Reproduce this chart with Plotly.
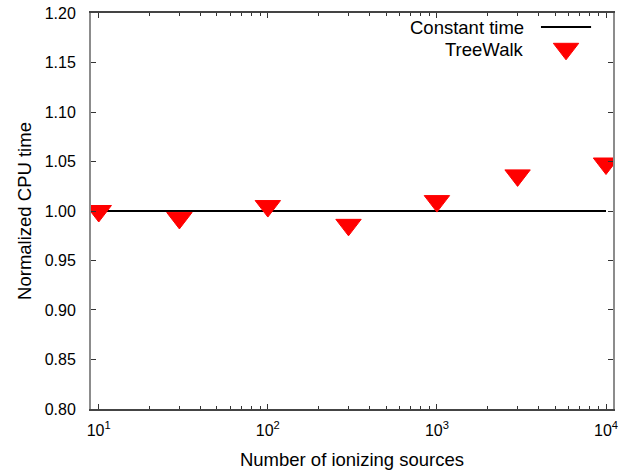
import math
import plotly.graph_objects as go

# ---- data ----
n_sources = [10, 30, 100, 300, 1000, 3000, 10000]
treewalk_time = [1.000, 0.993, 1.005, 0.986, 1.010, 1.036, 1.048]
const_x = [9, 10000]
const_y = [1.0, 1.0]
x_tickvals = [10, 100, 1000, 10000]
x_ticktext = ["10<sup>1</sup>", "10<sup>2</sup>", "10<sup>3</sup>", "10<sup>4</sup>"]
x_minor = [m * 10 ** e for e in range(0, 4) for m in range(2, 10) if 9 < m * 10 ** e < 11000]
y_tickvals = [0.80, 0.85, 0.90, 0.95, 1.00, 1.05, 1.10, 1.15, 1.20]
y_ticktext = ["0.80", "0.85", "0.90", "0.95", "1.00", "1.05", "1.10", "1.15", "1.20"]
series_names = ["Constant time", "TreeWalk"]

FONT = "Liberation Sans, Arial, sans-serif"
RED = "#ff0000"

fig = go.Figure()

fig.add_trace(go.Scatter(x=const_x, y=const_y, mode="lines",
                         line=dict(color="black", width=2), name=series_names[0],
                         showlegend=False))
fig.add_trace(go.Scatter(x=n_sources, y=treewalk_time, mode="markers",
                         marker=dict(symbol="triangle-down", size=22, color=RED,
                                     line=dict(color=RED, width=1)),
                         name=series_names[1], showlegend=False))

# legend sample marker (on an invisible overlay axis in plot-area fractions)
fig.add_trace(go.Scatter(x=[0.91], y=[0.9096], mode="markers", xaxis="x2", yaxis="y2",
                         marker=dict(symbol="triangle-down", size=22, color=RED,
                                     line=dict(color=RED, width=1)),
                         showlegend=False, hoverinfo="skip"))

fig.update_layout(
    width=637, height=474,
    margin=dict(l=91, r=24, t=13, b=65, autoexpand=False),
    paper_bgcolor="white", plot_bgcolor="white",
    font=dict(family=FONT, size=16, color="black"),
    showlegend=False,
    xaxis=dict(
        type="log", range=[math.log10(9), math.log10(11000)], autorange=False,
        tickvals=x_tickvals, ticktext=x_ticktext,
        ticks="inside", ticklen=5, tickwidth=1, tickcolor="#333",
        showline=True, linecolor="#444", linewidth=1.5, mirror="allticks",
        showgrid=False, zeroline=False, automargin=False,
        tickfont=dict(size=16), ticklabeloverflow="allow",
        ticklabelstandoff=6,
        minor=dict(tickvals=x_minor, ticks="inside", ticklen=3, tickcolor="#333", showgrid=False),
        title=dict(text="Number of ionizing sources", font=dict(size=18.5), standoff=15),
    ),
    yaxis=dict(
        range=[0.7999, 1.2001], autorange=False,
        tickvals=y_tickvals, ticktext=y_ticktext,
        ticks="inside", ticklen=5, tickwidth=1, tickcolor="#333",
        showline=True, linecolor="#8c8c8c", linewidth=2, mirror="allticks",
        showgrid=False, zeroline=False, automargin=False,
        tickfont=dict(size=16), ticklabeloverflow="allow",
        ticklabelstandoff=10,
        title=dict(text="Normalized CPU time", font=dict(size=18.5), standoff=8),
    ),
    xaxis2=dict(overlaying="x", range=[0, 1], visible=False, automargin=False),
    yaxis2=dict(overlaying="y", range=[0, 1], visible=False, automargin=False),
    shapes=[dict(type="line", xref="paper", yref="paper",
                 x0=0.862, x1=0.958, y0=0.9646, y1=0.9646,
                 line=dict(color="black", width=2))],
    annotations=[
        dict(text=series_names[0], xref="paper", yref="paper", x=0.833, y=0.9646,
             xanchor="right", yanchor="middle", showarrow=False, font=dict(size=18.5)),
        dict(text=series_names[1], xref="paper", yref="paper", x=0.833, y=0.909,
             xanchor="right", yanchor="middle", showarrow=False, font=dict(size=18.5)),
    ],
)

fig.write_html("out.html", config={"displayModeBar": False},
               post_script="document.body.style.margin='0';")
